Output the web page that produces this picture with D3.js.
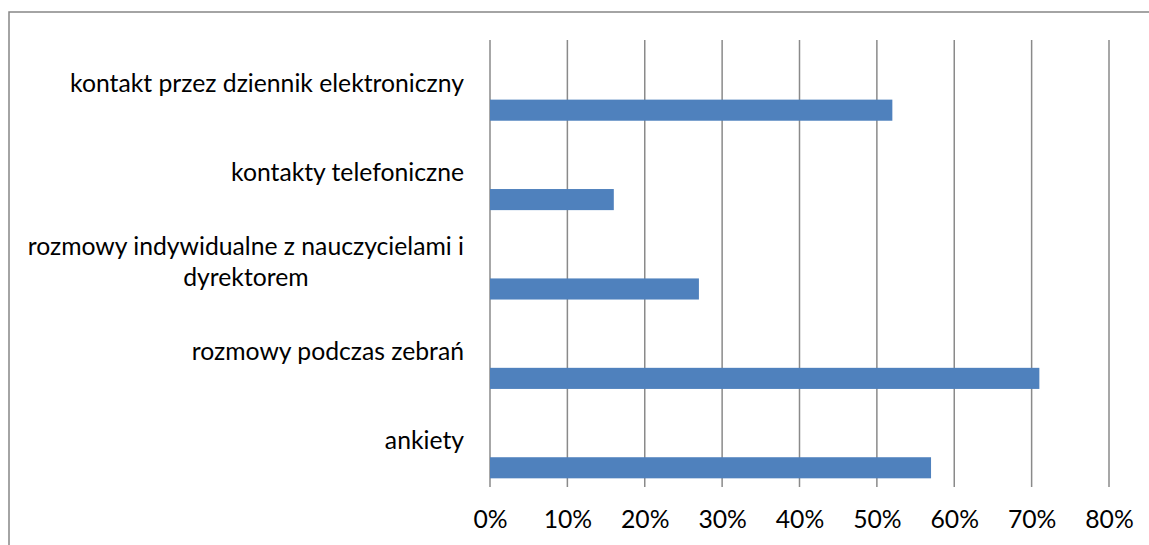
<!DOCTYPE html>
<html><head><meta charset="utf-8">
<script src="https://cdn.jsdelivr.net/npm/d3@7"></script>
<style>html,body{margin:0;padding:0;background:#fff;overflow:hidden}</style>
</head><body>
<svg id="c" width="1149" height="545"></svg>
<script>
const categories = ["kontakt przez dziennik elektroniczny","kontakty telefoniczne","rozmowy indywidualne z nauczycielami i dyrektorem","rozmowy podczas zebrań","ankiety"];
const values = [0.52, 0.16, 0.27, 0.71, 0.57];
const tickValues = [0,0.1,0.2,0.3,0.4,0.5,0.6,0.7,0.8];

(function(){
const svg = d3.select("#c");
const FONT = "Lato, 'Open Sans', sans-serif";
const W = 1149, H = 545;
const pLeft = 490, pRight = 1109, pTop = 40, pBottom = 487;

// chart border (extends beyond visible area right/bottom)
svg.append("rect").attr("x", 9).attr("y", 12).attr("width", W + 40).attr("height", H + 40)
  .attr("fill", "#fff").attr("stroke", "#868686").attr("stroke-width", 1.5);

const x = d3.scaleLinear().domain([0, 0.8]).range([pLeft, pRight]);
const y = d3.scaleBand().domain(categories).range([pTop, pBottom]);

// font size fitting Calibri-like widths
const probe = svg.append("text").attr("font-family", FONT).attr("font-size", 24).text(categories[0]);
const w0 = probe.node().getComputedTextLength();
probe.remove();
const fs = 24 * 394 / w0;

// gridlines
svg.append("g").selectAll("line").data(tickValues).join("line")
  .attr("x1", d => x(d)).attr("x2", d => x(d))
  .attr("y1", pTop).attr("y2", pBottom)
  .attr("stroke", "#8a8a8a").attr("stroke-width", 1.5);

// bars
const bw = y.bandwidth();
svg.append("g").selectAll("rect").data(categories).join("rect")
  .attr("x", x(0)).attr("y", d => y(d) + bw * 0.5 + bw * 0.167)
  .attr("width", (d, i) => x(values[i]) - x(0))
  .attr("height", bw * 0.236)
  .attr("fill", "#4F81BD");

// x axis tick labels
const xAxis = d3.axisBottom(x).tickValues(tickValues).tickFormat(d3.format(".0%")).tickSize(0).tickPadding(0);
const gx = svg.append("g").attr("transform", `translate(0,${pBottom})`).call(xAxis);
gx.select(".domain").remove();
gx.selectAll("text").attr("font-family", FONT).attr("font-size", fs).attr("fill", "#000")
  .attr("dy", null).attr("y", 41);

// category labels with wrapping
const maxW = 445, labelRight = 464, lineH = fs * 1.22;
const meas = svg.append("text").attr("font-family", FONT).attr("font-size", fs);
function width(s){ meas.text(s); return meas.node().getComputedTextLength(); }
categories.forEach(cat => {
  const words = cat.split(" ");
  const lines = []; let cur = "";
  words.forEach(wd => {
    const t = cur ? cur + " " + wd : wd;
    if (width(t) > maxW && cur) { lines.push(cur); cur = wd; } else cur = t;
  });
  lines.push(cur);
  const blockW = d3.max(lines, width);
  const cx = labelRight - blockW / 2;
  const cy = y(cat) + bw / 2;
  const t = svg.append("text").attr("font-family", FONT).attr("font-size", fs)
    .attr("fill", "#000").attr("text-anchor", "middle");
  lines.forEach((ln, i) => {
    t.append("tspan").attr("x", cx)
      .attr("y", cy + 7 + (i - (lines.length - 1) / 2) * lineH)
      .text(ln);
  });
});
meas.remove();
})();
</script>
</body></html>
